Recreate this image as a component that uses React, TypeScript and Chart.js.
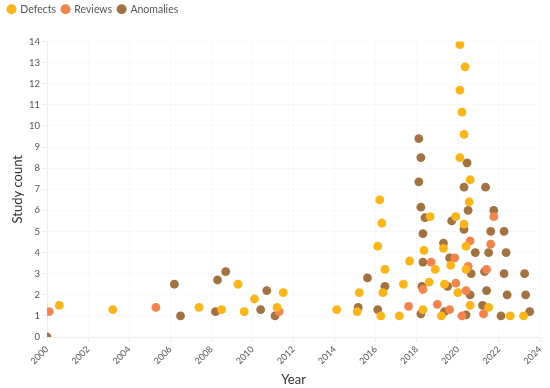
import React, { useEffect, useRef } from "react";
import { Chart, registerables } from "chart.js";

Chart.register(...registerables);

const seriesNames = ["Defects", "Reviews", "Anomalies"];
const seriesColors = ["#FDB515", "#F5844C", "#A27340"];

const defectsYears = [2000.6, 2003.2, 2007.4, 2008.5, 2009.3, 2009.6, 2010.1, 2011.2, 2011.5, 2014.1, 2015.1, 2015.2, 2016.1, 2016.2, 2016.25, 2016.3, 2016.35, 2016.45, 2017.15, 2017.35, 2017.65, 2018.3, 2018.35, 2018.6, 2018.65, 2018.9, 2019.2, 2019.3, 2019.35, 2019.65, 2019.9, 2020.0, 2020.1, 2020.35, 2020.1, 2020.2, 2020.3, 2020.1, 2020.6, 2020.55, 2020.3, 2020.4, 2020.4, 2020.6, 2021.5, 2022.55, 2023.2];
const defectsCounts = [1.5, 1.3, 1.4, 1.3, 2.5, 1.2, 1.8, 1.4, 2.1, 1.3, 1.2, 2.1, 4.3, 6.5, 1.0, 5.4, 2.1, 3.2, 1.0, 2.5, 3.6, 1.3, 4.1, 2.6, 5.7, 3.2, 1.0, 4.2, 2.5, 3.4, 5.7, 2.1, 13.85, 12.8, 11.7, 10.65, 9.6, 8.5, 7.45, 6.4, 5.35, 4.3, 3.2, 1.5, 1.4, 1.0, 1.0];

const reviewsYears = [2000.1, 2005.3, 2011.3, 2017.6, 2018.3, 2018.7, 2019.0, 2019.6, 2019.85, 2019.9, 2020.2, 2020.4, 2020.5, 2020.6, 2021.25, 2021.4, 2021.6, 2021.75];
const reviewsCounts = [1.2, 1.4, 1.2, 1.45, 2.25, 3.55, 1.55, 1.3, 3.75, 2.55, 1.0, 2.2, 3.35, 4.55, 1.1, 3.2, 4.4, 5.7];

const anomaliesYears = [2000, 2006.2, 2006.5, 2008.2, 2008.3, 2008.7, 2010.4, 2010.7, 2011.1, 2015.15, 2015.6, 2016.1, 2016.45, 2018.1, 2018.2, 2018.1, 2018.2, 2018.4, 2018.3, 2018.3, 2018.25, 2018.2, 2019.3, 2019.35, 2019.5, 2019.6, 2019.7, 2020.3, 2020.3, 2020.45, 2020.5, 2020.4, 2020.6, 2020.65, 2020.85, 2021.2, 2021.3, 2021.35, 2021.4, 2021.5, 2021.6, 2021.75, 2022.1, 2022.25, 2022.25, 2022.35, 2022.4, 2023.25, 2023.3, 2023.5];
const anomaliesCounts = [0, 2.5, 1.0, 1.2, 2.7, 3.1, 1.3, 2.2, 1.0, 1.4, 2.8, 1.3, 2.4, 9.4, 8.5, 7.35, 6.15, 5.65, 4.9, 3.55, 2.4, 1.1, 4.45, 1.2, 2.4, 3.75, 5.5, 7.1, 5.1, 8.25, 6.0, 1.05, 2.0, 3.0, 4.0, 1.5, 3.1, 7.1, 2.2, 4.0, 5.0, 6.0, 1.0, 3.0, 5.0, 4.0, 2.0, 3.0, 2.0, 1.2];

const xTitle = "Year";
const yTitle = "Study count";
const xMin = 2000;
const xMax = 2024;
const xStep = 2;
const yMin = 0;
const yMax = 14;

function pairs(xs: number[], ys: number[]) {
  return xs.map((x, i) => ({ x, y: ys[i] }));
}

const legendGap = {
  id: "legendGap",
  beforeInit(chart: any) {
    const orig = chart.legend.fit;
    chart.legend.fit = function () {
      orig.bind(chart.legend)();
      this.height += 17;
    };
  },
};

export default function App() {
  const ref = useRef<HTMLCanvasElement | null>(null);
  useEffect(() => {
    if (!ref.current) return;
    const font = "Lato, 'Open Sans', sans-serif";
    const data = [
      pairs(defectsYears, defectsCounts),
      pairs(reviewsYears, reviewsCounts),
      pairs(anomaliesYears, anomaliesCounts),
    ];
    const chart = new Chart(ref.current, {
      type: "scatter",
      data: {
        datasets: seriesNames.map((name, i) => ({
          label: name,
          data: data[i],
          backgroundColor: seriesColors[i],
          borderColor: seriesColors[i],
          pointRadius: 4.4,
          pointHoverRadius: 4.4,
          borderWidth: 0,
        })),
      },
      plugins: [legendGap],
      options: {
        animation: false,
        responsive: false,
        maintainAspectRatio: false,
        layout: { padding: { left: 2, right: 10, top: -2, bottom: 0 } },
        plugins: {
          tooltip: { enabled: false },
          legend: {
            position: "top",
            align: "start",
            labels: {
              usePointStyle: true,
              pointStyle: "circle",
              boxWidth: 7,
              boxHeight: 7,
              padding: 6,
              color: "#555",
              font: { family: font, size: 10.5 },
            },
          },
        },
        scales: {
          x: {
            type: "linear",
            min: xMin,
            max: xMax,
            afterFit: (s: any) => {
              s.height = 51;
            },
            ticks: {
              stepSize: xStep,
              minRotation: 45,
              maxRotation: 45,
              padding: 2,
              color: "#555",
              font: { family: font, size: 9 },
              callback: (v: any) => String(v),
            },
            grid: { color: "rgba(0,0,0,0.025)", tickColor: "#eee", tickLength: 5 },
            border: { color: "#eee" },
            title: {
              display: true,
              text: xTitle,
              color: "#333",
              padding: { top: 4, bottom: 0 },
              font: { family: font, size: 13 },
            },
          },
          y: {
            min: yMin,
            max: yMax,
            afterFit: (s: any) => {
              s.width = 45;
            },
            ticks: {
              stepSize: 1,
              padding: 2,
              color: "#555",
              font: { family: font, size: 9.5 },
            },
            grid: { color: "rgba(0,0,0,0.025)", tickColor: "#eee", tickLength: 5 },
            border: { color: "#eee" },
            title: {
              display: true,
              text: yTitle,
              color: "#333",
              padding: { top: 8, bottom: 0 },
              font: { family: font, size: 13 },
            },
          },
        },
      },
    });
    return () => chart.destroy();
  }, []);
  return (
    <div style={{ position: "fixed", left: 0, top: 0, width: 550, height: 388, background: "#fff" }}>
      <canvas ref={ref} width={550} height={388} />
    </div>
  );
}
